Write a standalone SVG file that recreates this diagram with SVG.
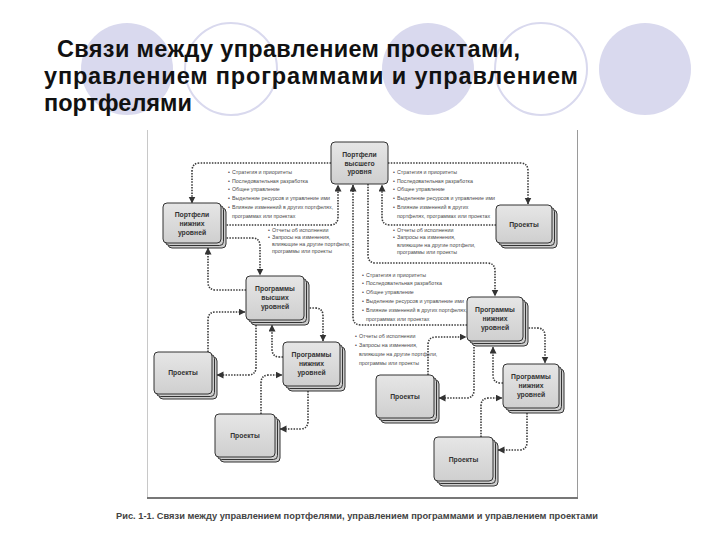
<svg xmlns="http://www.w3.org/2000/svg" width="720" height="540" viewBox="0 0 720 540">
<style>
.title{font-family:"Liberation Sans",Arial,sans-serif;font-size:23.5px;font-weight:bold;fill:#111}
.bf{fill:#d9d9ee}
.bo{fill:none;stroke:#d9d9ee;stroke-width:2}
.box{fill:url(#g);stroke:#333;stroke-width:1}
.stk{fill:#cdcdcd;stroke:#333;stroke-width:1}
.lbl{font-family:"Liberation Sans",Arial,sans-serif;font-size:6.8px;font-weight:bold;fill:#333;text-anchor:middle}
.note{font-family:"Liberation Sans",Arial,sans-serif;font-size:5.3px;fill:#4a4a4a}
.con path{fill:none;stroke:#3a3a3a;stroke-width:1.6;stroke-dasharray:1.5 1.3;marker-end:url(#ah)}
.cap{font-family:"Liberation Sans",Arial,sans-serif;font-size:9.5px;font-weight:bold;fill:#444}
</style>
<defs>
<linearGradient id="g" x1="0" y1="0" x2="0" y2="1"><stop offset="0" stop-color="#e6e6e6"/><stop offset="1" stop-color="#cfcfcf"/></linearGradient>
<marker id="ah" markerUnits="userSpaceOnUse" markerWidth="8" markerHeight="8" refX="6.5" refY="3.5" orient="auto"><path d="M0,0 L7,3.5 L0,7 z" fill="#333"/></marker>
</defs>
<rect width="720" height="540" fill="#fff"/>
<g id="bg">
<circle class="bf" cx="127" cy="69" r="46"/>
<circle class="bo" cx="231" cy="69" r="46"/>
<circle class="bf" cx="428" cy="69" r="46"/>
<circle class="bo" cx="541" cy="69" r="46"/>
<circle class="bf" cx="645" cy="69" r="46"/>
</g>
<g id="title" class="title">
<text x="57" y="57" textLength="463" lengthAdjust="spacing">Связи между управлением проектами,</text>
<text x="44" y="84" textLength="534" lengthAdjust="spacing">управлением программами и управлением</text>
<text x="44" y="111">портфелями</text>
</g>
<g id="frame">
<line x1="147.5" y1="130" x2="147.5" y2="498" stroke="#c8c8c8" stroke-width="1"/>
<line x1="577.5" y1="130" x2="577.5" y2="498" stroke="#9a9a9a" stroke-width="1"/>
<line x1="147" y1="498" x2="578" y2="498" stroke="#777" stroke-width="2"/>
</g>
<g id="connectors" class="con">
<path d="M331,163 H200 Q192,163 192,171 V203"/>
<path d="M221,225 H330 Q338,225 338,217 V185"/>
<path d="M368,184 V255 Q368,263 376,263 H487 Q495,263 495,271 V296"/>
<path d="M467,325 H361 Q353,325 353,317 V185"/>
<path d="M388,163 H520 Q528,163 528,171 V204"/>
<path d="M496,225 H390 Q382,225 382,217 V185"/>
<path d="M221,238 H252 Q260,238 260,246 V275"/>
<path d="M246,290 H216 Q208,290 208,282 V248"/>
<path d="M304,308 H315 Q323,308 323,316 V341"/>
<path d="M283,357 H280 Q272,357 272,349 V325"/>
<path d="M208,352 V320 Q208,312 216,312 H245"/>
<path d="M256,325 V367 Q256,375 248,375 H217"/>
<path d="M261,414 V383 Q261,375 269,375 H282"/>
<path d="M308,391 V421 Q308,429 300,429 H280"/>
<path d="M523,328 H537 Q545,328 545,336 V363"/>
<path d="M503,383 H501 Q493,383 493,375 V347"/>
<path d="M474,347 V390 Q474,398 466,398 H439"/>
<path d="M428,375 V345 Q428,337 436,337 H466"/>
<path d="M527,413 V442 Q527,450 519,450 H498"/>
<path d="M481,437 V406 Q481,398 489,398 H502"/>
</g>
<g id="n-top"><rect class="box" x="331" y="142" width="57" height="42" rx="4"/>
<text class="lbl" x="359.5" y="157">Портфели</text><text class="lbl" x="359.5" y="165.5">высшего</text><text class="lbl" x="359.5" y="174">уровня</text></g>
<g id="n-lowport"><rect class="stk" x="168" y="208" width="58" height="40" rx="4"/><rect class="stk" x="165.5" y="205.5" width="58" height="40" rx="4"/><rect class="box" x="163" y="203" width="58" height="40" rx="4"/>
<text class="lbl" x="192" y="217">Портфели</text><text class="lbl" x="192" y="226">нижних</text><text class="lbl" x="192" y="235">уровней</text></g>
<g id="n-proj1"><rect class="stk" x="501" y="210" width="56" height="38" rx="4"/><rect class="stk" x="498.5" y="207.5" width="56" height="38" rx="4"/><rect class="box" x="496" y="205" width="56" height="38" rx="4"/>
<text class="lbl" x="524" y="226.5">Проекты</text></g>
<g id="n-proghigh"><rect class="stk" x="251" y="281" width="58" height="44" rx="4"/><rect class="stk" x="248.5" y="278.5" width="58" height="44" rx="4"/><rect class="box" x="246" y="276" width="58" height="44" rx="4"/>
<text class="lbl" x="275" y="291">Программы</text><text class="lbl" x="275" y="300">высших</text><text class="lbl" x="275" y="309">уровней</text></g>
<g id="n-proglow1"><rect class="stk" x="288" y="347" width="57" height="44" rx="4"/><rect class="stk" x="285.5" y="344.5" width="57" height="44" rx="4"/><rect class="box" x="283" y="342" width="57" height="44" rx="4"/>
<text class="lbl" x="311.5" y="357">Программы</text><text class="lbl" x="311.5" y="366">нижних</text><text class="lbl" x="311.5" y="375">уровней</text></g>
<g id="n-proj2"><rect class="stk" x="159" y="357" width="58" height="42" rx="4"/><rect class="stk" x="156.5" y="354.5" width="58" height="42" rx="4"/><rect class="box" x="154" y="352" width="58" height="42" rx="4"/>
<text class="lbl" x="183" y="375">Проекты</text></g>
<g id="n-proj3"><rect class="stk" x="220" y="419" width="60" height="43" rx="4"/><rect class="stk" x="217.5" y="416.5" width="60" height="43" rx="4"/><rect class="box" x="215" y="414" width="60" height="43" rx="4"/>
<text class="lbl" x="245" y="438">Проекты</text></g>
<g id="n-progright"><rect class="stk" x="472" y="302" width="56" height="44" rx="4"/><rect class="stk" x="469.5" y="299.5" width="56" height="44" rx="4"/><rect class="box" x="467" y="297" width="56" height="44" rx="4"/>
<text class="lbl" x="495" y="312">Программы</text><text class="lbl" x="495" y="321">нижних</text><text class="lbl" x="495" y="330">уровней</text></g>
<g id="n-proglow2"><rect class="stk" x="508" y="369" width="56" height="44" rx="4"/><rect class="stk" x="505.5" y="366.5" width="56" height="44" rx="4"/><rect class="box" x="503" y="364" width="56" height="44" rx="4"/>
<text class="lbl" x="531" y="379">Программы</text><text class="lbl" x="531" y="388">нижних</text><text class="lbl" x="531" y="397">уровней</text></g>
<g id="n-proj4"><rect class="stk" x="381" y="380" width="58" height="43" rx="4"/><rect class="stk" x="378.5" y="377.5" width="58" height="43" rx="4"/><rect class="box" x="376" y="375" width="58" height="43" rx="4"/>
<text class="lbl" x="405" y="399">Проекты</text></g>
<g id="n-proj5"><rect class="stk" x="439" y="442" width="59" height="44" rx="4"/><rect class="stk" x="436.5" y="439.5" width="59" height="44" rx="4"/><rect class="box" x="434" y="437" width="59" height="44" rx="4"/>
<text class="lbl" x="463.5" y="461.5">Проекты</text></g>
<g id="notes" class="note">
<g id="noteA">
<text x="228" y="174">•</text><text x="232" y="174">Стратегия и приоритеты</text>
<text x="228" y="183">•</text><text x="232" y="183">Последовательная разработка</text>
<text x="228" y="191">•</text><text x="232" y="191">Общее управление</text>
<text x="228" y="200">•</text><text x="232" y="200">Выделение ресурсов и управление ими</text>
<text x="228" y="209">•</text><text x="232" y="209">Влияние изменений в других портфелях,</text>
<text x="232" y="218">программах или проектах</text>
</g>
<g id="noteB">
<text x="268" y="232">•</text><text x="272" y="232">Отчеты об исполнении</text>
<text x="268" y="239">•</text><text x="272" y="239">Запросы на изменения,</text>
<text x="272" y="246">влияющие на другие портфели,</text>
<text x="272" y="253">программы или проекты</text>
</g>
<g id="noteC">
<text x="393" y="174">•</text><text x="397" y="174">Стратегия и приоритеты</text>
<text x="393" y="183">•</text><text x="397" y="183">Последовательная разработка</text>
<text x="393" y="191">•</text><text x="397" y="191">Общее управление</text>
<text x="393" y="200">•</text><text x="397" y="200">Выделение ресурсов и управление ими</text>
<text x="393" y="209">•</text><text x="397" y="209">Влияние изменений в других</text>
<text x="397" y="218">портфелях, программах или проектах</text>
</g>
<g id="noteD">
<text x="393" y="232">•</text><text x="397" y="232">Отчеты об исполнении</text>
<text x="393" y="239">•</text><text x="397" y="239">Запросы на изменения,</text>
<text x="397" y="247">влияющие на другие портфели,</text>
<text x="397" y="254">программы или проекты</text>
</g>
<g id="noteE">
<text x="362" y="277">•</text><text x="366" y="277">Стратегия и приоритеты</text>
<text x="362" y="285">•</text><text x="366" y="285">Последовательная разработка</text>
<text x="362" y="294">•</text><text x="366" y="294">Общее управление</text>
<text x="362" y="303">•</text><text x="366" y="303">Выделение ресурсов и управление ими</text>
<text x="362" y="312">•</text><text x="366" y="312">Влияние изменений в других портфелях,</text>
<text x="366" y="321">программах или проектах</text>
</g>
<g id="noteF">
<text x="355" y="338">•</text><text x="359" y="338">Отчеты об исполнении</text>
<text x="355" y="347">•</text><text x="359" y="347">Запросы на изменения,</text>
<text x="359" y="356">влияющие на другие портфели,</text>
<text x="359" y="365">программы или проекты</text>
</g>
</g>
<text id="caption" class="cap" x="116" y="519" textLength="482" lengthAdjust="spacingAndGlyphs">Рис. 1-1. Связи между управлением портфелями, управлением программами и управлением проектами</text>
</svg>
